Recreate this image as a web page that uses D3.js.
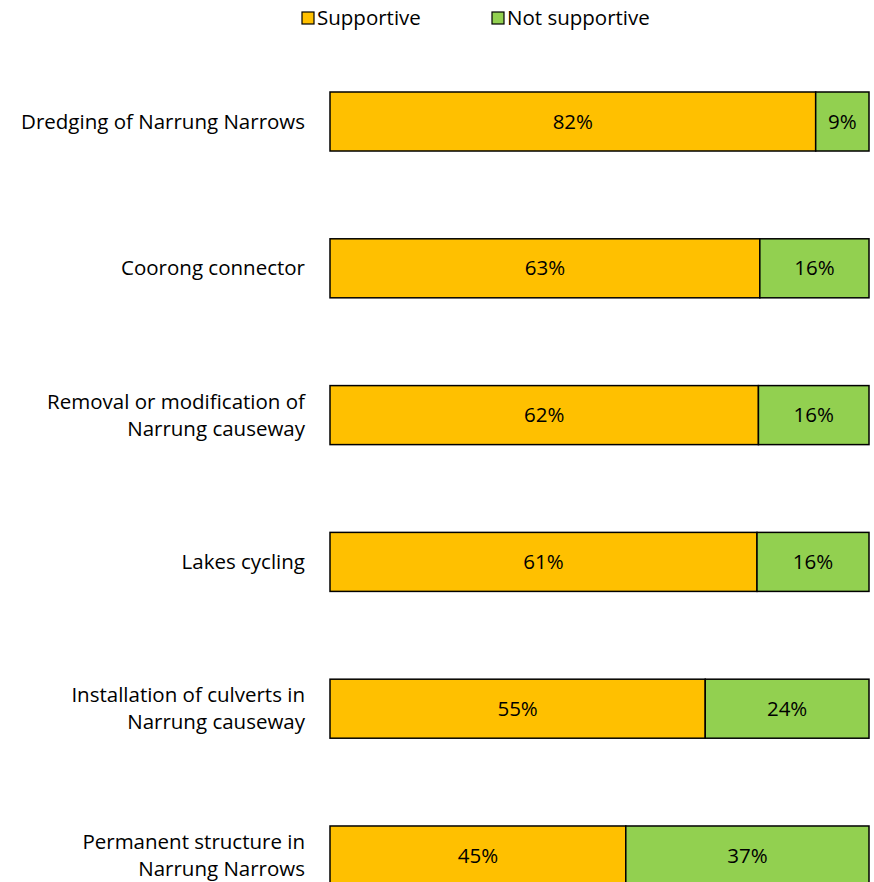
<!DOCTYPE html>
<html>
<head>
<meta charset="utf-8">
<script src="https://cdn.jsdelivr.net/npm/d3@7"></script>
<style>
  html, body { margin: 0; padding: 0; background: #fff; }
  svg { display: block; font-family: "Open Sans", Lato, sans-serif; }
</style>
</head>
<body>
<svg id="chart" width="874" height="882"></svg>
<script>
// Survey responses per option (percent of respondents)
const categories = [
  "Dredging of Narrung Narrows",
  "Coorong connector",
  "Removal or modification of|Narrung causeway",
  "Lakes cycling",
  "Installation of culverts in|Narrung causeway",
  "Permanent structure in|Narrung Narrows"
];
const supportive = [82, 63, 62, 61, 55, 45];
const notSupportive = [9, 16, 16, 16, 24, 37];
const seriesNames = ["Supportive", "Not supportive"];
const seriesColors = ["#FFC000", "#92D050"];

const rows = categories.map((c, i) => ({
  cat: c, "Supportive": supportive[i], "Not supportive": notSupportive[i]
}));

// Each bar is scaled to the full width (shares of the responses shown)
const stacked = d3.stack().keys(seriesNames).offset(d3.stackOffsetExpand)(rows);

const svg = d3.select("#chart");
const x = d3.scaleLinear().domain([0, 1]).range([330, 869]);
const y = d3.scaleBand().domain(categories).range([92, 885]).paddingInner(0.598).paddingOuter(0);
const color = d3.scaleOrdinal().domain(seriesNames).range(seriesColors);

const fontSize = 20.5;

// Bars
const groups = svg.selectAll("g.series").data(stacked).join("g").attr("class", "series")
  .attr("fill", d => color(d.key));

groups.selectAll("rect").data(d => d.map(v => ({ v, key: d.key }))).join("rect")
  .attr("x", d => x(d.v[0]))
  .attr("y", d => y(d.v.data.cat))
  .attr("width", d => x(d.v[1]) - x(d.v[0]))
  .attr("height", y.bandwidth())
  .attr("stroke", "#000")
  .attr("stroke-width", 1.5);

// Value labels
groups.selectAll("text").data(d => d.map(v => ({ v, key: d.key }))).join("text")
  .attr("x", d => (x(d.v[0]) + x(d.v[1])) / 2)
  .attr("y", d => y(d.v.data.cat) + y.bandwidth() / 2)
  .attr("dy", "0.35em")
  .attr("text-anchor", "middle")
  .attr("font-size", fontSize)
  .attr("fill", "#000")
  .text(d => d.v.data[d.key] + "%");

// Category labels (right-aligned, possibly two lines)
const lineGap = 27;
svg.append("g").selectAll("text").data(categories).join("text")
  .attr("text-anchor", "end")
  .attr("font-size", fontSize)
  .attr("fill", "#000")
  .each(function(c) {
    const lines = c.split("|");
    const cy = y(c) + y.bandwidth() / 2;
    const t = d3.select(this);
    lines.forEach((ln, i) => {
      t.append("tspan")
        .attr("x", 305)
        .attr("y", cy + (i - (lines.length - 1) / 2) * lineGap)
        .attr("dy", "0.35em")
        .text(ln);
    });
  });

// Legend
const legendItems = [
  { name: seriesNames[0], x: 302 },
  { name: seriesNames[1], x: 492 }
];
const lg = svg.append("g").selectAll("g").data(legendItems).join("g")
  .attr("transform", d => `translate(${d.x},12)`);
lg.append("rect")
  .attr("width", 12).attr("height", 12)
  .attr("fill", d => color(d.name))
  .attr("stroke", "#000").attr("stroke-width", 1.2);
lg.append("text")
  .attr("x", 15).attr("y", 6).attr("dy", "0.35em")
  .attr("font-size", fontSize)
  .attr("fill", "#000")
  .text(d => d.name);
</script>
</body>
</html>
